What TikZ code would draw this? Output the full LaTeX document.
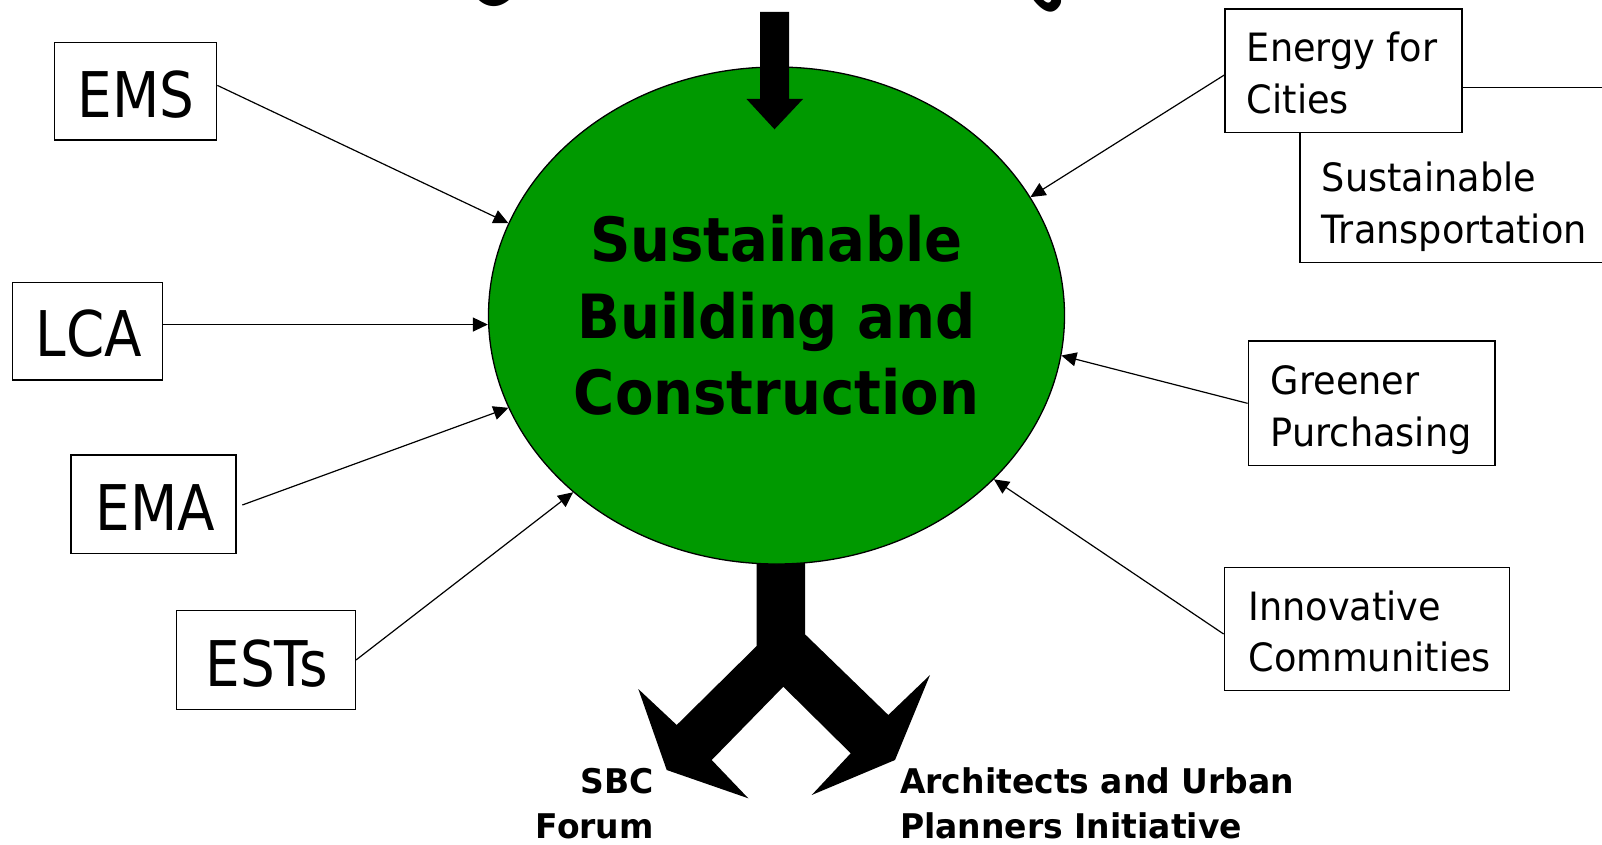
\documentclass[tikz,border=0pt]{standalone}
\usepackage{fontspec}
\usetikzlibrary{shapes.geometric,arrows.meta}
\newfontfamily\fA{DejaVu Sans}[FakeStretch=0.87]
\newfontfamily\fB{DejaVu Sans}[FakeStretch=0.94]
\newfontfamily\fC{DejaVu Sans}[FakeStretch=0.92]
\newfontfamily\fD{DejaVu Sans}[FakeStretch=0.97]
\definecolor{sbgreen}{RGB}{0,153,0}
\tikzset{
  boxframe/.style={draw=black, line width=1.4pt, fill=white, rectangle, inner sep=0pt},
  biglabel/.style={anchor=base, inner sep=0pt, font=\fA\fontsize{63}{70}\selectfont},
  smalllabel/.style={anchor=base west, inner sep=0pt, align=left, font=\fB\fontsize{39}{51.5}\selectfont},
  boldlabel/.style={inner sep=0pt, font=\fD\bfseries\fontsize{34}{45}\selectfont},
  conn/.style={draw=black, line width=1.2pt, -{Triangle[length=15pt,width=14pt]}},
  blockarrow/.style={fill=black, draw=none},
  arcletter/.style={inner sep=0pt, font=\fC\bfseries\fontsize{64}{64}\selectfont}
}
\begin{document}
\begin{tikzpicture}[x=1pt,y=-1pt]
\useasboundingbox (0,0) rectangle (1602,845);
\clip (0,0) rectangle (1602,845);

% fragments of the curved title above
\node[arcletter, rotate=38] (arcC) at (490,-15) {C};
\node[arcletter, rotate=-42] (arcS) at (1052,-7) {s};

% forked block arrow below the ellipse
\fill[blockarrow] (756.7,540) -- (756.7,646) -- (676.7,725) -- (638.3,689) -- (666.7,770)
  -- (748.3,798.3) -- (711.7,760) -- (783.3,686.7) -- (850.7,753.3) -- (811.7,795)
  -- (895,760) -- (930,675) -- (888.3,715) -- (805,634.3) -- (805,540) -- cycle;

% central ellipse
\node[ellipse, draw=black, line width=1.3pt, fill=sbgreen, minimum width=576pt,
  minimum height=497pt, inner sep=0pt, align=center,
  font=\fC\bfseries\fontsize{61}{76.3}\selectfont] (sbc) at (776.5,315.5)
  {Sustainable\\Building and\\Construction};

% block arrow from top
\fill[blockarrow] (760,12) -- (789,12) -- (789,99) -- (803,99) -- (774.5,129.3)
  -- (746.5,99) -- (760,99) -- cycle;

% left boxes
\node[boxframe, minimum width=162.4pt, minimum height=97.7pt] (ems) at (135.5,91.15) {};
\node[biglabel] (emst) at (136.2,117.3) {EMS};
\node[boxframe, minimum width=149.6pt, minimum height=97.7pt] (lca) at (87.5,331.15) {};
\node[biglabel] (lcat) at (88.7,356.7) {LCA};
\node[boxframe, minimum width=165pt, minimum height=98.3pt] (ema) at (153.5,504.15) {};
\node[biglabel] (emat) at (155.5,530) {EMA};
\node[boxframe, minimum width=178.6pt, minimum height=98.6pt] (ests) at (266,660) {};
\node[biglabel] (estst) at (266.7,686) {ESTs};

% right boxes (base anchor = baseline of the last line)
\node[boxframe, minimum width=340pt, minimum height=175pt] (st) at (1470,174.8) {};
\node[smalllabel] (stt) at (1321.7,243.3) {Sustainable\\Transportation};
\node[boxframe, minimum width=237pt, minimum height=123.7pt] (efc) at (1343.5,70.85) {};
\node[smalllabel] (efct) at (1246.7,113.2) {Energy for\\Cities};
\node[boxframe, minimum width=246.7pt, minimum height=124.7pt] (gp) at (1371.65,403.35) {};
\node[smalllabel] (gpt) at (1270.7,446) {Greener\\Purchasing};
\node[boxframe, minimum width=285pt, minimum height=123.4pt] (ic) at (1366.8,629) {};
\node[smalllabel] (ict) at (1248.3,671.7) {Innovative\\Communities};

% bottom labels
\node[boldlabel, anchor=base east, align=right] (sbcf) at (654,838) {SBC\\Forum};
\node[boldlabel, anchor=base west, align=left] (aupi) at (900,838) {Architects and Urban\\Planners Initiative};

% connectors
\draw[conn] (ems.4.25) -- (sbc.161.8);
\draw[conn] (lca.5.23) -- (lca.5.23 -| sbc.180);
\draw[conn, shorten <=6pt] (ema.-2.19) -- (sbc.199.5);
\draw[conn] (ests.east) -- (sbc.221.6);
\draw[conn] (efc.182.5) -- (sbc.25.2);
\draw[conn] (gp.west) -- (sbc.-8.96);
\draw[conn] (ic.182.4) -- (sbc.-37.5);
\end{tikzpicture}
\end{document}
